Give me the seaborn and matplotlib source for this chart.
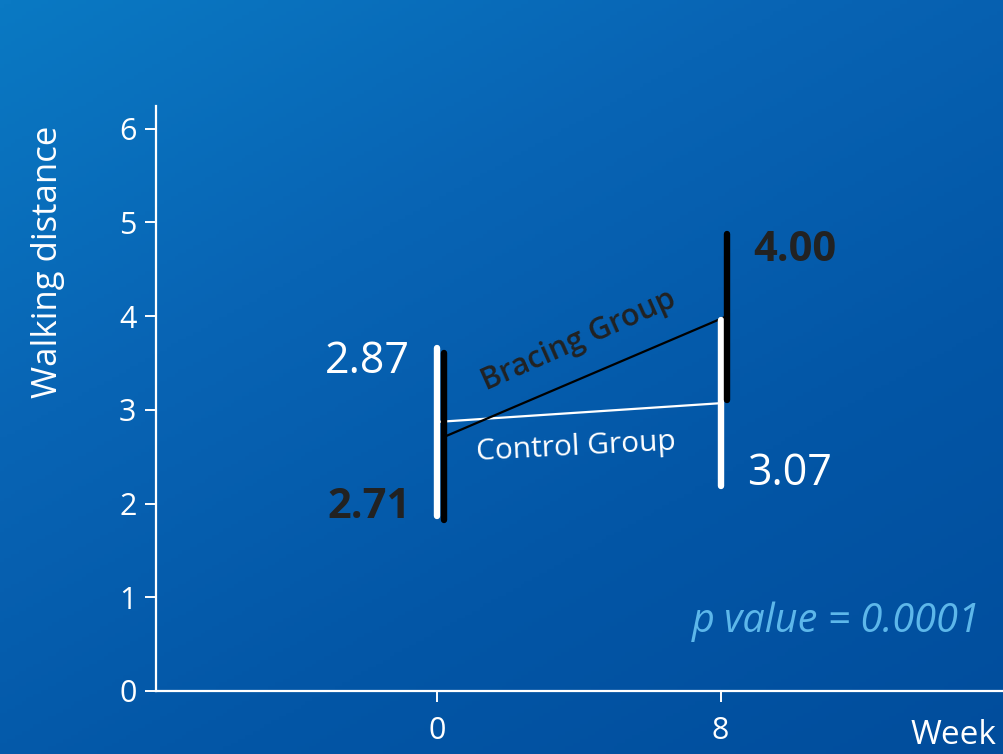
import numpy as np
import pandas as pd
import matplotlib
matplotlib.use("Agg")
import matplotlib.pyplot as plt
import seaborn as sns
from matplotlib.colors import LinearSegmentedColormap

# ---- data ----
weeks = [0, 8]
groups = ["Control Group", "Bracing Group"]
control_mean = [2.87, 3.07]
control_low = [1.87, 2.19]
control_high = [3.66, 3.96]
bracing_mean = [2.71, 4.00]
bracing_low = [1.82, 3.10]
bracing_high = [3.61, 4.87]
y_ticks = [0, 1, 2, 3, 4, 5, 6]
x_ticks = [0, 8]

sns.set_theme(style="white")
plt.rcParams["font.family"] = ["Open Sans", "DejaVu Sans"]

fig = plt.figure(figsize=(10.04, 7.54), dpi=100)

# background gradient
bg = fig.add_axes([0, 0, 1, 1], zorder=-10)
bg.set_axis_off()
h, w = 200, 270
yy, xx = np.mgrid[0:h, 0:w]
t = (xx / w) * 0.55 + (yy / h) * 0.75
t = t / t.max()
cmap = LinearSegmentedColormap.from_list("bgc", ["#0a79c3", "#0864b4", "#0356a6", "#014d9c"])
bg.imshow(t, cmap=cmap, aspect="auto", extent=[0, 1, 0, 1], origin="upper")
bg.set_xlim(0, 1)
bg.set_ylim(0, 1)

ax = fig.add_axes([156 / 1004, 63 / 754, 1 - 156 / 1004, (691 - 106) / 754])
ax.patch.set_alpha(0)

off = 0.19
df = pd.DataFrame({
    "week": weeks + [wk + off for wk in weeks],
    "value": control_mean + bracing_mean,
    "group": [groups[0]] * 2 + [groups[1]] * 2,
})
sns.lineplot(data=df, x="week", y="value", hue="group",
             palette={groups[0]: "white", groups[1]: "black"},
             linewidth=1.6, legend=False, ax=ax, zorder=2)

ax.vlines(weeks, control_low, control_high, colors="white", linewidth=4.6,
          capstyle="round", zorder=3)
ax.vlines([wk + off for wk in weeks], bracing_low, bracing_high, colors="black",
          linewidth=4.6, capstyle="round", zorder=4)
for coll in ax.collections:
    coll.set_capstyle("round")

ax.set_xlim(-7.94, 16.0)
ax.set_ylim(0, 6.24)
ax.set_xticks(x_ticks)
ax.set_yticks(y_ticks)
ax.set_xlabel("")
ax.set_ylabel("")
for s in ["top", "right"]:
    ax.spines[s].set_visible(False)
for s in ["left", "bottom"]:
    ax.spines[s].set_color("white")
    ax.spines[s].set_linewidth(1.6)
ax.tick_params(axis="both", colors="white", labelcolor="white", labelsize=22,
               length=8, width=1.4, direction="out", left=True, bottom=True)
ax.tick_params(axis="x", pad=10)
ax.tick_params(axis="y", pad=6)

dark = "#222222"
ax.text(-0.76, control_mean[0] + 0.64, f"{control_mean[0]:.2f}", color="white",
        fontsize=31, ha="right", va="center")
ax.text(-0.76, bracing_mean[0] - 0.75, f"{bracing_mean[0]:.2f}", color=dark,
        fontsize=30, fontweight="bold", ha="right", va="center")
ax.text(8.93, bracing_mean[1] + 0.70, f"{bracing_mean[1]:.2f}", color=dark,
        fontsize=30, fontweight="bold", ha="left", va="center")
ax.text(8.76, control_mean[1] - 0.75, f"{control_mean[1]:.2f}", color="white",
        fontsize=31, ha="left", va="center")

ax.text(3.98, 3.74, groups[1], color=dark, fontsize=22, fontweight="semibold",
        rotation=24, ha="center", va="center", rotation_mode="anchor")
ax.text(3.93, 2.60, groups[0], color="white", fontsize=21.5,
        rotation=3, ha="center", va="center", rotation_mode="anchor")

ax.text(15.35, 0.74, "p value = 0.0001", color="#5db7ea", fontsize=28.5,
        style="italic", ha="right", va="center")

fig.text(48 / 1004, 1 - 262 / 754, "Walking distance", color="white", fontsize=25,
         rotation=90, ha="center", va="center")
fig.text(996 / 1004, 2 / 754, "Week", color="white", fontsize=24,
         ha="right", va="bottom")

fig.savefig("out.png", dpi=100)
